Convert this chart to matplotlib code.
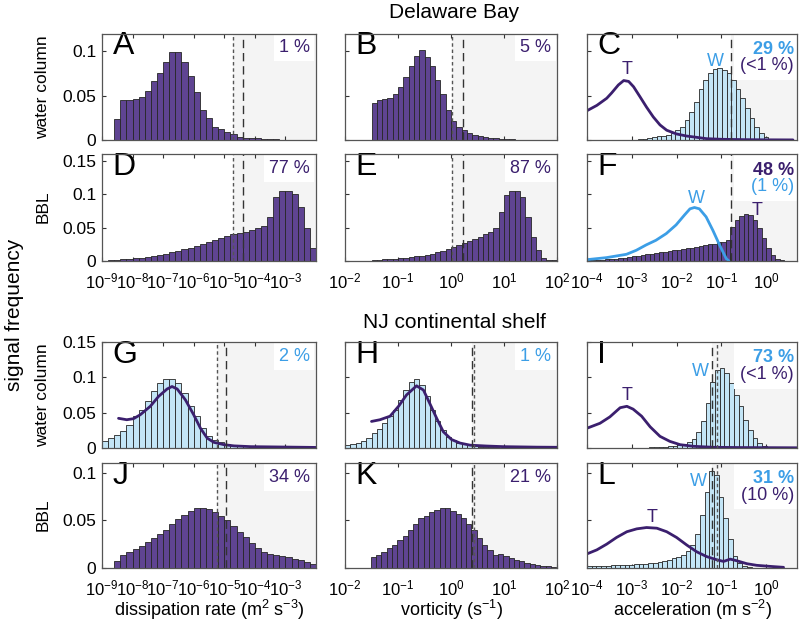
import numpy as np
import matplotlib.pyplot as plt
from matplotlib.patches import Rectangle
from matplotlib.ticker import FixedLocator, FixedFormatter, NullLocator

plt.rcParams['font.family'] = ['Liberation Sans', 'DejaVu Sans']
plt.rcParams['mathtext.fontset'] = 'custom'
plt.rcParams['mathtext.rm'] = 'Liberation Sans'
plt.rcParams['mathtext.default'] = 'regular'

PURPLE = '#5f4492'   # purple bars
DARK = '#3b1f6e'     # T lines and purple text
LBLUE = '#c3e5f6'    # light blue bars
BLUE = '#3c9ee6'     # W lines and blue text
SHADE = '#f4f4f4'

# ---- histograms: (log10 of first bin edge, log10 bin width, heights) ----
A_start, A_w = -8.6, 0.2
A_h = [0.024, 0.045, 0.045, 0.046, 0.048, 0.055, 0.066, 0.075, 0.088, 0.099,
       0.099, 0.088, 0.072, 0.054, 0.034, 0.0245, 0.015, 0.012, 0.0094, 0.0064,
       0.0038, 0.0026, 0.002, 0.0017, 0.0013, 0.001, 0.0007, 0.0005, 0.0003, 0.0002]

B_start, B_w = -1.5, 0.1
B_h = [0.042, 0.045, 0.046, 0.047, 0.052, 0.060, 0.071, 0.083, 0.095, 0.101,
       0.094, 0.083, 0.068, 0.052, 0.034, 0.021, 0.015, 0.011, 0.008, 0.006,
       0.0045, 0.0035, 0.0028, 0.002, 0.0015, 0.001, 0.0008, 0.0005, 0.0003]

C_start, C_w = -2.86, 0.104
C_h = [0.001, 0.0015, 0.002, 0.003, 0.004, 0.005, 0.006, 0.008, 0.011, 0.015,
       0.023, 0.032, 0.043, 0.057, 0.068, 0.075, 0.080, 0.081, 0.079, 0.075,
       0.068, 0.058, 0.047, 0.036, 0.025, 0.015, 0.0075, 0.003, 0.001]

D_start, D_w = -8.8, 0.2
D_h = [0.0015, 0.002, 0.0025, 0.003, 0.004, 0.005, 0.006, 0.0075, 0.009, 0.011,
       0.013, 0.015, 0.0175, 0.020, 0.023, 0.026, 0.029, 0.031, 0.034, 0.037,
       0.040, 0.042, 0.044, 0.046, 0.049, 0.052, 0.066, 0.096, 0.104, 0.104,
       0.100, 0.080, 0.050, 0.020, 0.005]

E_start, E_w = -1.5, 0.1
E_h = [0.0015, 0.002, 0.0025, 0.003, 0.0035, 0.004, 0.005, 0.006, 0.007, 0.008,
       0.009, 0.011, 0.013, 0.015, 0.018, 0.021, 0.024, 0.027, 0.030, 0.033,
       0.036, 0.040, 0.044, 0.049, 0.074, 0.099, 0.104, 0.104, 0.096, 0.066,
       0.036, 0.016, 0.005, 0.002, 0.001]

F_start, F_w = -4.0, 0.1
F_h = [0.001, 0.0012, 0.0015, 0.002, 0.0025, 0.003, 0.0035, 0.004, 0.005, 0.006,
       0.007, 0.008, 0.009, 0.010, 0.011, 0.012, 0.013, 0.014, 0.015, 0.016,
       0.017, 0.018, 0.019, 0.020, 0.021, 0.022, 0.024, 0.025, 0.026, 0.028,
       0.029, 0.031, 0.051, 0.062, 0.068, 0.070, 0.069, 0.062, 0.050, 0.035,
       0.020, 0.009, 0.0035, 0.0015, 0.0007]

G_start, G_w = -9.0, 0.2
G_h = [0.0094, 0.014, 0.019, 0.024, 0.033, 0.045, 0.054, 0.066, 0.080, 0.092,
       0.097, 0.098, 0.092, 0.078, 0.060, 0.045, 0.028, 0.017, 0.012, 0.008,
       0.0057, 0.0038, 0.0028, 0.0024, 0.002, 0.0016, 0.0013, 0.001, 0.0008,
       0.0006, 0.0005, 0.0004, 0.0003, 0.0002]

H_start, H_w = -2.0, 0.1
H_h = [0.0038, 0.005, 0.007, 0.0094, 0.014, 0.021, 0.027, 0.035, 0.045, 0.054,
       0.068, 0.082, 0.094, 0.097, 0.089, 0.073, 0.054, 0.038, 0.026, 0.016,
       0.011, 0.007, 0.005, 0.0038, 0.0028, 0.002, 0.0015, 0.001, 0.0008, 0.0005]

I_start, I_w = -2.715, 0.105
I_h = [0.0005, 0.001, 0.0012, 0.0015, 0.002, 0.0025, 0.003, 0.004, 0.006, 0.009,
       0.013, 0.022, 0.038, 0.064, 0.094, 0.111, 0.113, 0.106, 0.092, 0.075,
       0.059, 0.040, 0.026, 0.014, 0.007, 0.003, 0.001]

J_start, J_w = -8.6, 0.2
J_h = [0.0069, 0.0138, 0.0166, 0.0197, 0.023, 0.027, 0.031, 0.0355, 0.040, 0.046,
       0.051, 0.056, 0.060, 0.063, 0.063, 0.062, 0.059, 0.055, 0.050, 0.044,
       0.038, 0.032, 0.026, 0.021, 0.0166, 0.0148, 0.0135, 0.0125, 0.012, 0.0098,
       0.0083, 0.0062, 0.0045, 0.0035]

K_start, K_w = -1.515, 0.1
K_h = [0.0114, 0.014, 0.017, 0.021, 0.024, 0.029, 0.034, 0.040, 0.046, 0.052,
       0.055, 0.059, 0.061, 0.063, 0.063, 0.060, 0.057, 0.052, 0.046, 0.040,
       0.031, 0.024, 0.019, 0.0138, 0.0148, 0.013, 0.0103, 0.0086, 0.0069, 0.0052,
       0.004, 0.003, 0.0025, 0.002, 0.0015]

L_start, L_w = -4.0, 0.105
L_h = [0.002, 0.002, 0.0022, 0.0024, 0.0026, 0.0028, 0.003, 0.0032, 0.0034, 0.0036,
       0.004, 0.0043, 0.0046, 0.005, 0.0055, 0.006, 0.007, 0.008, 0.010, 0.012,
       0.014, 0.018, 0.024, 0.036, 0.056, 0.080, 0.102, 0.097, 0.074, 0.052,
       0.030, 0.013, 0.0055, 0.002, 0.0008]

# ---- curves: log10(x), y ----
C_T_lx = [-4.0, -3.78, -3.56, -3.45, -3.3, -3.18, -3.07, -2.96, -2.82, -2.67,
          -2.52, -2.37, -2.22, -2.0, -1.78, -1.55, -1.33, -1.0, -0.5, 0.0, 0.6]
C_T_y = [0.033, 0.039, 0.047, 0.053, 0.062, 0.067, 0.066, 0.060, 0.049, 0.037,
         0.026, 0.017, 0.011, 0.0068, 0.0045, 0.003, 0.0015, 0.0008, 0.0004, 0.0002, 0.0001]

F_W_lx = [-4.0, -3.57, -3.12, -2.9, -2.68, -2.46, -2.23, -2.01, -1.82, -1.7,
          -1.6, -1.49, -1.34, -1.19, -1.04, -0.89, -0.83]
F_W_y = [0.002, 0.005, 0.010, 0.016, 0.024, 0.031, 0.041, 0.054, 0.069, 0.078,
         0.080, 0.078, 0.066, 0.046, 0.024, 0.0035, 0.0]

G_T_lx = [-8.46, -8.19, -7.97, -7.75, -7.42, -7.15, -6.87, -6.71, -6.54, -6.27,
          -6.0, -5.78, -5.56, -5.34, -5.01, -4.68, -4.13, -3.14, -2.0]
G_T_y = [0.042, 0.040, 0.0415, 0.047, 0.059, 0.073, 0.0835, 0.087, 0.0835, 0.068,
         0.047, 0.028, 0.014, 0.008, 0.0047, 0.003, 0.0019, 0.0014, 0.0008]

H_T_lx = [-1.5, -1.34, -1.15, -0.99, -0.84, -0.65, -0.52, -0.40, -0.27, -0.145,
          0.01, 0.17, 0.36, 0.67, 0.99, 1.62, 2.0]
H_T_y = [0.0376, 0.040, 0.045, 0.059, 0.075, 0.088, 0.082, 0.063, 0.042, 0.023,
         0.012, 0.007, 0.004, 0.0028, 0.0019, 0.0012, 0.001]

I_T_lx = [-4.0, -3.71, -3.49, -3.26, -3.11, -2.97, -2.78, -2.59, -2.37, -2.15,
          -1.92, -1.62, -1.18, -0.5, 0.31, 0.69]
I_T_y = [0.028, 0.035, 0.044, 0.057, 0.059, 0.055, 0.045, 0.030, 0.0165, 0.0094,
         0.0047, 0.0024, 0.001, 0.0006, 0.0004, 0.0003]

L_T_lx = [-4.0, -3.78, -3.56, -3.34, -3.11, -2.89, -2.67, -2.44, -2.22, -2.0,
          -1.77, -1.55, -1.33, -1.10, -0.95, -0.80, -0.655, -0.43, -0.21, 0.09, 0.39]
L_T_y = [0.0148, 0.019, 0.025, 0.032, 0.038, 0.041, 0.0424, 0.0417, 0.038, 0.032,
         0.024, 0.017, 0.012, 0.0086, 0.0069, 0.0093, 0.0076, 0.0045, 0.0028, 0.0017, 0.0007]

# ---- threshold lines (log10): shaded from first one ----
col_short = [[-4.70], [0.02], []]
col_long = [[-4.39], [0.22], [-0.78]]
nj_short = [[-5.25], [0.44], [-1.10]]
nj_long = [[-4.95], [0.39], [-1.21]]

pct_top = [['1 %', '5 %', '29 %'], ['77 %', '87 %', '48 %'],
           ['2 %', '1 %', '73 %'], ['34 %', '21 %', '31 %']]
pct_sub = [[None, None, '(<1 %)'], [None, None, '(1 %)'],
           [None, None, '(<1 %)'], [None, None, '(10 %)']]
pct_col = [[DARK, DARK, BLUE], [DARK, DARK, DARK], [BLUE, BLUE, BLUE], [DARK, DARK, BLUE]]
sub_col = [[None, None, DARK], [None, None, BLUE], [None, None, DARK], [None, None, DARK]]
letters = [['A', 'B', 'C'], ['D', 'E', 'F'], ['G', 'H', 'I'], ['J', 'K', 'L']]

ylims = [0.12, 0.16, 0.15, 0.11]
yticks = [[0, 0.05, 0.1], [0, 0.05, 0.1, 0.15], [0, 0.05, 0.1, 0.15], [0, 0.05, 0.1]]
ytlabels = [['0', '0.05', '0.1'], ['0', '0.05', '0.1', '0.15'],
            ['0', '0.05', '0.1', '0.15'], ['0', '0.05', '0.1']]
xlims = [(1e-9, 1e-2), (1e-2, 1e2), (1e-4, 10 ** 0.69)]
xticks = [[-9, -8, -7, -6, -5, -4, -3], [-2, -1, 0, 1, 2], [-4, -3, -2, -1, 0]]

W, H = 800.0, 628.0
col_l = [102, 345, 587]
col_r = [316, 557, 797]
row_t = [33.5, 154, 342, 463]
row_b = [140, 261, 448, 568]

fig = plt.figure(figsize=(8, 6.28), dpi=100)

hists = [[(A_start, A_w, A_h, PURPLE), (B_start, B_w, B_h, PURPLE), (C_start, C_w, C_h, LBLUE)],
         [(D_start, D_w, D_h, PURPLE), (E_start, E_w, E_h, PURPLE), (F_start, F_w, F_h, PURPLE)],
         [(G_start, G_w, G_h, LBLUE), (H_start, H_w, H_h, LBLUE), (I_start, I_w, I_h, LBLUE)],
         [(J_start, J_w, J_h, PURPLE), (K_start, K_w, K_h, PURPLE), (L_start, L_w, L_h, LBLUE)]]
curves = {(0, 2): (C_T_lx, C_T_y, DARK), (1, 2): (F_W_lx, F_W_y, BLUE),
          (2, 0): (G_T_lx, G_T_y, DARK), (2, 1): (H_T_lx, H_T_y, DARK),
          (2, 2): (I_T_lx, I_T_y, DARK), (3, 2): (L_T_lx, L_T_y, DARK)}
tw_labels = {(0, 2): [('T', -3.11, 0.079, DARK), ('W', -1.14, 0.089, BLUE)],
             (1, 2): [('W', -1.55, 0.094, BLUE), ('T', -0.21, 0.076, DARK)],
             (2, 2): [('T', -3.11, 0.075, DARK), ('W', -1.47, 0.108, BLUE)],
             (3, 2): [('T', -2.55, 0.053, DARK), ('W', -1.51, 0.091, BLUE)]}

for r in range(4):
    for c in range(3):
        ax = fig.add_axes([col_l[c] / W, 1 - row_b[r] / H,
                           (col_r[c] - col_l[c]) / W, (row_b[r] - row_t[r]) / H])
        ax.set_xscale('log')
        ax.set_xlim(*xlims[c])
        ax.set_ylim(0, ylims[r])

        shorts = col_short[c] if r < 2 else nj_short[c]
        longs = col_long[c] if r < 2 else nj_long[c]
        thr = min(shorts + longs)
        ax.axvspan(10 ** thr, xlims[c][1], color=SHADE, zorder=0, lw=0)

        start, w, h, colr = hists[r][c]
        lo = start + w * np.arange(len(h))
        left = 10 ** lo
        ax.bar(left, h, width=10 ** (lo + w) - left, align='edge', color=colr,
               edgecolor='#262626', linewidth=0.6, zorder=2)

        if (r, c) in curves:
            lx, yy, lc = curves[(r, c)]
            ax.plot(10 ** np.array(lx), yy, color=lc, lw=2, zorder=3, solid_capstyle='round')
        for s, lxx, yv, tc in tw_labels.get((r, c), []):
            ax.text(10 ** lxx, yv, s, color=tc, fontsize=13, ha='center', va='center', zorder=4)

        for v in longs:
            ax.axvline(10 ** v, color='#333333', lw=1.0, ls=(0, (6, 3.5)), zorder=3)
        for v in shorts:
            ax.axvline(10 ** v, color='#555555', lw=1.0, ls=(0, (2.5, 2)), zorder=3)

        ax.text(0.05, 0.88, letters[r][c], transform=ax.transAxes, fontsize=23,
                ha='left', va='center', zorder=5)
        if pct_sub[r][c] is None:
            bb = dict(facecolor='white', edgecolor='none', pad=3.5)
            ax.text(0.97, 0.865, pct_top[r][c], transform=ax.transAxes, fontsize=13,
                    color=pct_col[r][c], ha='right', va='center', bbox=bb, zorder=5)
        else:
            ax.add_patch(Rectangle((0.70, 0.56), 0.30, 0.44, transform=ax.transAxes,
                                   facecolor='white', edgecolor='none', zorder=4))
            ax.text(0.985, 0.85, pct_top[r][c], transform=ax.transAxes, fontsize=13,
                    color=pct_col[r][c], ha='right', va='center', weight='bold', zorder=5)
            ax.text(0.985, 0.695, pct_sub[r][c], transform=ax.transAxes, fontsize=13,
                    color=sub_col[r][c], ha='right', va='center', zorder=5)

        ax.xaxis.set_major_locator(FixedLocator([10.0 ** e for e in xticks[c]]))
        ax.xaxis.set_minor_locator(NullLocator())
        if r in (1, 3):
            ax.xaxis.set_major_formatter(FixedFormatter(['$10^{%d}$' % e for e in xticks[c]]))
        else:
            ax.set_xticklabels([])
        ax.yaxis.set_major_locator(FixedLocator(yticks[r]))
        if c == 0:
            ax.yaxis.set_major_formatter(FixedFormatter(ytlabels[r]))
        else:
            ax.set_yticklabels([])
        ax.tick_params(direction='in', length=3, width=0.8,
                       top=True, right=False, color='#333333')
        ax.tick_params(axis='x', labelsize=12, pad=7.5)
        ax.tick_params(axis='y', labelsize=12.5, pad=4)
        for sp in ax.spines.values():
            sp.set_color('#555555')
            sp.set_linewidth(0.9)
            sp.set_zorder(6)

fig.text(454 / W, 1 - 12 / H, 'Delaware Bay', fontsize=15, ha='center', va='center')
fig.text(454 / W, 1 - 322 / H, 'NJ continental shelf', fontsize=15, ha='center', va='center')
fig.text(15 / W, 1 - 315 / H, 'signal frequency', fontsize=15, rotation=90, ha='center', va='center')
for yc, lab in [(87, 'water column'), (207, 'BBL'), (395, 'water column'), (515, 'BBL')]:
    fig.text(43 / W, 1 - yc / H, lab, fontsize=12.5, rotation=90, ha='center', va='center')
fig.text(209 / W, 1 - 610 / H, 'dissipation rate (m$^2$ s$^{-3}$)', fontsize=13, ha='center', va='center')
fig.text(451 / W, 1 - 610 / H, 'vorticity (s$^{-1}$)', fontsize=13, ha='center', va='center')
fig.text(692 / W, 1 - 610 / H, 'acceleration (m s$^{-2}$)', fontsize=13, ha='center', va='center')

fig.savefig('out.png', dpi=100)
